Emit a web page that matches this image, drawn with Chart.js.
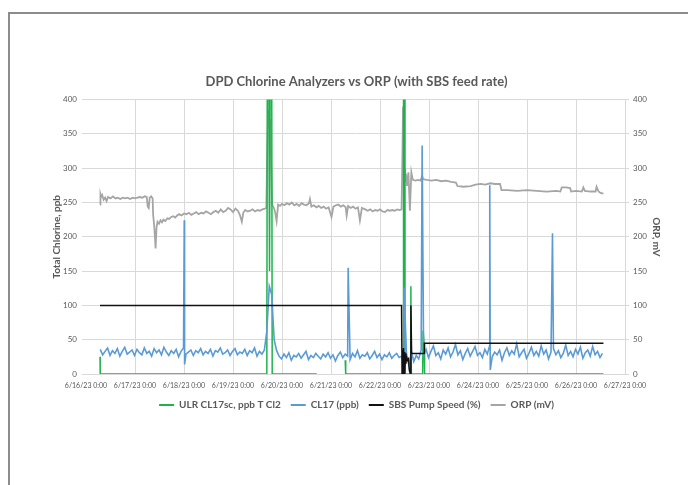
<!DOCTYPE html>
<html>
<head>
<meta charset="utf-8">
<script src="https://cdn.jsdelivr.net/npm/chart.js@4"></script>
<style>
  html, body { margin: 0; padding: 0; background: #fff; }
  #frame { position: absolute; left: 8px; top: 12px; width: 700px; height: 500px; border: 2px solid #8c8c8c; }
  #wrap { position: absolute; left: 0; top: 0; width: 688px; height: 485px; }
</style>
</head>
<body>
<div id="frame"></div>
<div id="wrap"><canvas id="chart" width="688" height="485"></canvas></div>
<script>
// x values are days since 6/16/23 0:00
const xLabels = ['6/16/23 0:00', '6/17/23 0:00', '6/18/23 0:00', '6/19/23 0:00', '6/20/23 0:00', '6/21/23 0:00',
                 '6/22/23 0:00', '6/23/23 0:00', '6/24/23 0:00', '6/25/23 0:00', '6/26/23 0:00', '6/27/23 0:00'];

// ULR CL17sc, ppb T Cl2 (null = no data)
const ulrPoints = [[0.286, 25], [0.29, 0], [3.69, 0], [3.70, 450], [3.73, 450], [3.745, 150], [3.76, 450], [3.79, 450],
                   [3.80, 0], [4.71, 0], [4.72, null], [5.29, 20], [5.30, 0], [6.47, 0], [6.48, 450], [6.50, 450],
                   [6.51, 0], [6.62, 0], [6.63, 128], [6.64, 0], [6.87, 0], [6.88, 63], [6.90, 45], [6.91, 0], [10.56, 0]];

// CL17 (ppb): regular readings every 0.05 day from day 0.29, plus the isolated spikes
const cl17Start = 0.29;
const cl17Step = 0.05;
const cl17Values = [
  36, 28, 33, 38, 27, 34, 30, 37, 26, 33, 39, 29, 32, 35, 27, 36, 31, 28, 38, 30,
  33, 26, 37, 31, 35, 28, 39, 32, 27, 34, 30, 36, 25, 33, 38, 29, 32, 35, 27, 34,
  31, 37, 28, 33, 30, 36, 26, 34, 32, 38, 29, 31, 35, 27, 33, 37, 28, 32, 30, 36,
  27, 34, 31, 38, 26, 33, 29, 35,
  62, 128, 116, 50,
  34, 26, 22, 29, 24, 31, 20, 27, 25, 30, 23, 28, 33, 21, 27, 24, 30, 26, 22, 29,
  25, 31, 23, 28, 19, 27, 32, 24, 29, 26, 21, 30, 25, 34, 23, 28, 26, 31, 22, 27,
  33, 24, 29, 21, 28, 25, 31, 23, 27, 30, 24,
  26, 14, 30, 12, 33, 18, 27, 22, 35,
  28, 36, 24, 33, 41, 27, 31, 22, 35, 29, 38, 25, 32, 43, 28, 34, 21, 30, 37, 26,
  33, 40, 27, 31, 24, 36, 29, 42, 25, 32, 28, 35, 20, 31, 38, 27, 34, 29, 44, 25,
  31, 36, 23, 30, 39, 27, 33, 26, 41, 29, 35, 22, 32, 37, 28, 34, 24, 30, 42, 27,
  33, 25, 36, 29, 39, 23, 31, 35, 26, 40, 28, 33, 24, 30
];
const cl17Spikes = [[2.005, 224], [2.012, 14], [5.35, 155], [6.49, 126], [6.86, 333], [8.24, 275], [8.25, 6], [9.52, 205]];

// SBS Pump Speed (%)
const sbsPoints = [[0.286, 100], [6.44, 100], [6.45, 0], [6.46, 35], [6.47, 0], [6.48, 38], [6.49, 5], [6.50, 32],
                   [6.51, 0], [6.52, 30], [6.53, 15], [6.54, 25], [6.56, 20], [6.58, 22], [6.60, 5], [6.62, 0],
                   [6.63, 100], [6.645, 30], [6.90, 30], [6.905, 45], [10.56, 45]];

// ORP (mV), right axis
const orpPoints = [[0.286,247],[0.295,262],[0.31,258],[0.33,261],[0.36,254],[0.39,257],[0.42,252],[0.45,258],[0.50,256],
  [0.55,259],[0.60,256],[0.65,257],[0.70,255],[0.75,257],[0.80,256],[0.85,257],[0.90,255],[0.95,257],[1.00,256],[1.05,257],
  [1.10,258],[1.15,257],[1.20,259],[1.24,258],[1.26,244],[1.28,242],[1.30,257],[1.33,259],[1.36,256],[1.37,232],[1.39,218],
  [1.41,196],[1.42,183],[1.44,214],[1.46,222],[1.49,219],[1.52,224],[1.55,221],[1.58,225],[1.62,223],[1.66,227],[1.70,226],
  [1.74,229],[1.78,230],[1.82,228],[1.86,231],[1.90,233],[1.95,231],[2.00,234],[2.05,233],[2.10,235],[2.15,232],[2.20,234],
  [2.25,236],[2.30,233],[2.35,235],[2.40,234],[2.45,237],[2.50,235],[2.55,233],[2.60,236],[2.65,238],[2.70,235],[2.75,240],
  [2.80,236],[2.85,238],[2.90,242],[2.95,240],[3.00,236],[3.05,241],[3.10,238],[3.14,232],[3.18,222],[3.21,235],[3.25,239],
  [3.30,237],[3.35,238],[3.40,240],[3.45,237],[3.50,239],[3.55,238],[3.60,240],[3.65,241],[3.68,242],[3.70,330],[3.72,385],
  [3.74,360],[3.76,372],[3.78,300],[3.80,246],[3.83,243],[3.86,236],[3.89,223],[3.92,247],[3.96,245],[4.00,248],[4.05,246],
  [4.10,249],[4.15,247],[4.20,250],[4.25,246],[4.30,248],[4.35,245],[4.40,249],[4.45,247],[4.50,246],[4.55,249],[4.57,255],
  [4.60,244],[4.65,246],[4.70,243],[4.75,245],[4.80,242],[4.85,244],[4.90,241],[4.95,243],[5.01,229],[5.05,244],[5.10,246],
  [5.15,247],[5.20,244],[5.25,246],[5.30,243],[5.32,231],[5.35,245],[5.40,242],[5.45,244],[5.50,241],[5.55,243],[5.59,224],
  [5.63,242],[5.70,240],[5.75,238],[5.80,240],[5.85,237],[5.90,239],[5.95,238],[6.00,240],[6.05,237],[6.10,236],[6.15,239],
  [6.20,238],[6.25,239],[6.30,238],[6.35,240],[6.40,239],[6.44,240],[6.46,330],[6.47,390],[6.49,300],[6.51,280],[6.53,292],
  [6.55,274],[6.58,294],[6.61,238],[6.64,294],[6.67,283],[6.72,282],[6.78,283],[6.83,282],[6.86,289],[6.88,284],[6.95,283],
  [7.05,282],[7.15,283],[7.25,281],[7.35,282],[7.45,280],[7.55,279],[7.58,274],[7.70,273],[7.85,274],[7.95,276],[8.05,277],
  [8.15,276],[8.25,278],[8.35,277],[8.45,277],[8.48,268],[8.60,268],[8.80,267],[9.00,268],[9.20,267],[9.40,266],[9.60,267],
  [9.68,266],[9.71,272],[9.80,272],[9.88,271],[9.90,266],[10.00,267],[10.12,266],[10.15,272],[10.18,267],[10.30,266],
  [10.40,266],[10.42,273],[10.46,266],[10.50,264],[10.56,263]];

const yTicks = [0, 50, 100, 150, 200, 250, 300, 350, 400];

const toXY = pts => pts.map(p => ({ x: p[0], y: p[1] }));

const cl17Data = cl17Values.map((v, i) => ({ x: +(cl17Start + i * cl17Step).toFixed(3), y: v }))
  .concat(toXY(cl17Spikes))
  .sort((a, b) => a.x - b.x);

const textColor = '#595959';
const gridColor = '#d9d9d9';
const baseFont = 'Lato, "Open Sans", sans-serif';

const ctx = document.getElementById('chart').getContext('2d');
new Chart(ctx, {
  type: 'line',
  data: {
    datasets: [
      { label: 'ULR CL17sc, ppb T Cl2', data: toXY(ulrPoints), borderColor: '#1fb24b', backgroundColor: '#1fb24b',
        borderWidth: 1.5, yAxisID: 'y', order: 3 },
      { label: 'CL17 (ppb)', data: cl17Data, borderColor: '#5b9bd5', backgroundColor: '#5b9bd5',
        borderWidth: 1.6, yAxisID: 'y', order: 2 },
      { label: 'SBS Pump Speed (%)', data: toXY(sbsPoints), borderColor: '#111111', backgroundColor: '#111111',
        borderWidth: 1.5, yAxisID: 'y', order: 1 },
      { label: 'ORP (mV)', data: toXY(orpPoints), borderColor: '#a5a5a5', backgroundColor: '#a5a5a5',
        borderWidth: 1.8, yAxisID: 'y1', order: 4 }
    ]
  },
  options: {
    responsive: false,
    animation: false,
    spanGaps: false,
    elements: { point: { radius: 0 }, line: { tension: 0 } },
    layout: { padding: { top: 74, bottom: 65, left: 45, right: 20 } },
    plugins: {
      tooltip: { enabled: false },
      title: {
        display: true,
        text: 'DPD Chlorine Analyzers vs ORP (with SBS feed rate)',
        color: textColor,
        font: { family: baseFont, size: 13, weight: 'bold' },
        padding: { top: 0, bottom: 10 }
      },
      legend: {
        position: 'bottom',
        labels: {
          color: textColor,
          font: { family: baseFont, size: 10, weight: 'bold' },
          boxWidth: 15,
          boxHeight: 2,
          padding: 10,
          sort: (a, b) => a.datasetIndex - b.datasetIndex,
          generateLabels: chart => Chart.defaults.plugins.legend.labels.generateLabels(chart)
            .map(l => Object.assign(l, { lineWidth: 0, fillStyle: l.strokeStyle }))
        }
      }
    },
    scales: {
      x: {
        type: 'linear',
        min: 0,
        max: 11,
        afterBuildTicks: axis => { axis.ticks = xLabels.map((_, i) => ({ value: i })); },
        afterFit: axis => { axis.height = 16; },
        ticks: {
          autoSkip: false,
          maxRotation: 0,
          color: textColor,
          font: { family: baseFont, size: 7 },
          padding: 8,
          callback: v => xLabels[v]
        },
        grid: { color: c => (c.index === 0 ? 'rgba(0,0,0,0)' : gridColor), drawTicks: false },
        border: { display: false }
      },
      y: {
        position: 'left',
        min: 0,
        max: 400,
        afterBuildTicks: axis => { axis.ticks = yTicks.map(v => ({ value: v })); },
        afterFit: axis => { axis.width = 41; },
        ticks: { color: textColor, font: { family: baseFont, size: 8 }, padding: 5 },
        grid: { color: gridColor, tickLength: 4 },
        border: { display: false },
        title: { display: true, text: 'Total Chlorine, ppb', color: textColor,
                 font: { family: baseFont, size: 10, weight: 'bold' }, padding: { top: 6, bottom: 0 } }
      },
      y1: {
        position: 'right',
        min: 0,
        max: 400,
        afterBuildTicks: axis => { axis.ticks = yTicks.map(v => ({ value: v })); },
        afterFit: axis => { axis.width = 43; },
        ticks: { color: textColor, font: { family: baseFont, size: 8 }, padding: 4 },
        grid: { drawOnChartArea: false, color: gridColor, tickLength: 4 },
        border: { display: true, color: gridColor },
        title: { display: true, text: 'ORP, mV', color: textColor,
                 font: { family: baseFont, size: 10, weight: 'bold' }, padding: { top: 5.5, bottom: 0 } }
      }
    }
  }
});
</script>
</body>
</html>
